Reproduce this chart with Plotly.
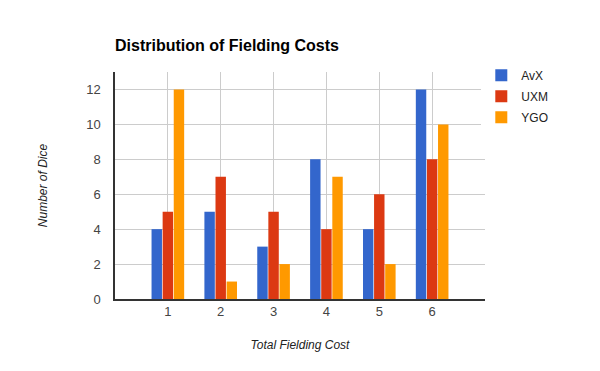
import plotly.graph_objects as go

categories = [1, 2, 3, 4, 5, 6]
avx = [4, 5, 3, 8, 4, 12]
uxm = [5, 7, 5, 4, 6, 8]
ygo = [12, 1, 2, 7, 2, 10]
series_names = ["AvX", "UXM", "YGO"]
colors = ["#3366cc", "#dc3912", "#ff9900"]

# page body has an 8px default margin; compensate
OFF = 8

fig = go.Figure()
for name, vals, c in zip(series_names, [avx, uxm, ygo], colors):
    fig.add_trace(go.Bar(x=categories, y=vals, name=name, legendgroup=name,
                         marker=dict(color=c, line=dict(width=0))))

fig.update_layout(
    width=600, height=371,
    margin=dict(l=115 - OFF, r=115 + OFF, t=72 - OFF, b=72 + OFF, autoexpand=False),
    paper_bgcolor="white", plot_bgcolor="white",
    font=dict(family="Liberation Sans, Arial, sans-serif", size=13, color="#444444"),
    title=dict(text="<b>Distribution of Fielding Costs</b>", x=(115 - OFF) / 600, xanchor="left",
               y=1 - (45 - OFF) / 371, yanchor="middle",
               font=dict(size=16, color="black", family="Liberation Sans, Arial, sans-serif")),
    barmode="group", bargap=0.37, bargroupgap=0.06,
    legend=dict(x=0.99, xanchor="left", y=1.05, yanchor="top",
                font=dict(size=12, color="#222222"), tracegroupgap=2, itemwidth=30),
    showlegend=True,
)
fig.update_xaxes(range=[0, 7], tickvals=categories, ticktext=[str(c) for c in categories],
                 showgrid=True, gridcolor="#cccccc", gridwidth=1, zeroline=False,
                 showline=True, linecolor="#333333", linewidth=1.5, ticks="",
                 tickfont=dict(size=13, color="#444444"),
                 title=dict(text="<i>Total Fielding Cost</i>", standoff=22,
                            font=dict(size=12, color="#222222")))
fig.update_yaxes(range=[0, 13], tickvals=[0, 2, 4, 6, 8, 10, 12],
                 showgrid=True, gridcolor="#cccccc", gridwidth=1, zeroline=False,
                 showline=True, linecolor="#333333", linewidth=1.5, ticks="",
                 ticklabelstandoff=10, tickfont=dict(size=13, color="#444444"),
                 title=dict(text="<i>Number of Dice</i>", standoff=36,
                            font=dict(size=12, color="#222222")))

fig.write_html("out.html")
